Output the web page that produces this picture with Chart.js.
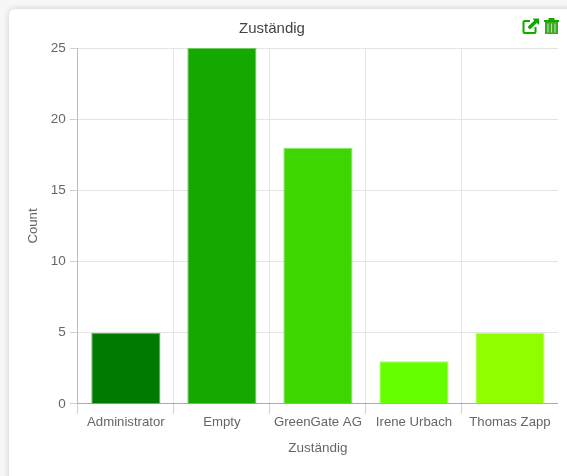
<!DOCTYPE html>
<html>
<head>
<meta charset="utf-8">
<style>
html,body{margin:0;padding:0;width:567px;height:476px;background:#f7f7f7;overflow:hidden}
#card{position:absolute;left:9px;top:9px;width:600px;height:520px;background:#fff;border-radius:6px;box-shadow:0 0 6px rgba(0,0,0,.18)}
#wrap{position:absolute;left:-14px;top:0;width:572px;height:476px}
#icons{position:absolute;left:522px;top:17px;width:38px;height:18px}
</style>
</head>
<body>
<div id="card"></div>
<div id="wrap"><canvas id="c" width="572" height="476"></canvas></div>
<svg id="icons" viewBox="0 0 38 18">
  <path d="M8 4H2.500A1 1 0 0 0 1.500 5V15A1 1 0 0 0 2.500 16H12.500A1 1 0 0 0 13.500 15V10" fill="none" stroke="#12a800" stroke-width="2"/>
  <path d="M10.500 1.500H17V8L14.800 6L8 12.500L5.500 10L12.300 3.500Z" fill="#12a800"/>
  <path d="M23 5H36V17H23Z" fill="#3fa81a"/>
  <path d="M22 3H37V5H22ZM26.500 1H32.500V3H26.500Z" fill="#12a800"/>
  <path d="M26 6.500V15.500M29.500 6.500V15.500M33 6.500V15.500" stroke="#9fe3c0" stroke-width="1.200"/>
</svg>
<script src="https://cdn.jsdelivr.net/npm/chart.js@4"></script>
<script>
const categories = ["Administrator","Empty","GreenGate AG","Irene Urbach","Thomas Zapp"];
const counts = [5,25,18,3,5];
const barColors = ["#007a00","#14a800","#3dd600","#66ff00","#8fff00"];
const borderColors = ["#5fb05f","#6fcb60","#84e560","#a3ff66","#bcff66"];
const titleText = "Zuständig";
const yTitle = "Count";
const xTitle = "Zuständig";
const fontFamily = "'Liberation Sans', Arial, sans-serif";
new Chart(document.getElementById('c'), {
  type: 'bar',
  data: { labels: categories, datasets: [{ data: counts, backgroundColor: barColors, borderColor: borderColors, borderWidth: 1 }] },
  options: {
    responsive: false, animation: false,
    layout: { padding: { left: 0, right: 0, top: 10, bottom: 20 } },
    plugins: {
      legend: { display: false },
      tooltip: { enabled: false },
      title: { display: true, text: titleText, color: '#444', font: { family: fontFamily, size: 15, weight: 'normal' }, padding: { top: 10, bottom: 10 } }
    },
    scales: {
      x: {
        grid: { color: '#e4e4e4', tickLength: 10, tickColor: '#d0d0d0', offset: true },
        border: { color: '#aaaaaa' },
        ticks: { color: '#666', font: { family: fontFamily, size: 13.2 }, maxRotation: 0, autoSkip: false, padding: 0 },
        title: { display: true, text: xTitle, color: '#666', font: { family: fontFamily, size: 13.5 }, padding: { top: 10, bottom: 0 } }
      },
      y: {
        min: 0, max: 25,
        grid: { color: '#e4e4e4', tickLength: 8, tickColor: '#d0d0d0' },
        border: { color: '#bbbbbb' },
        ticks: { stepSize: 5, color: '#666', font: { family: fontFamily, size: 13.5 }, padding: 4 },
        title: { display: true, text: yTitle, color: '#666', font: { family: fontFamily, size: 13.2 }, padding: { top: 39, bottom: 6 } }
      }
    }
  }
});
</script>
</body>
</html>
